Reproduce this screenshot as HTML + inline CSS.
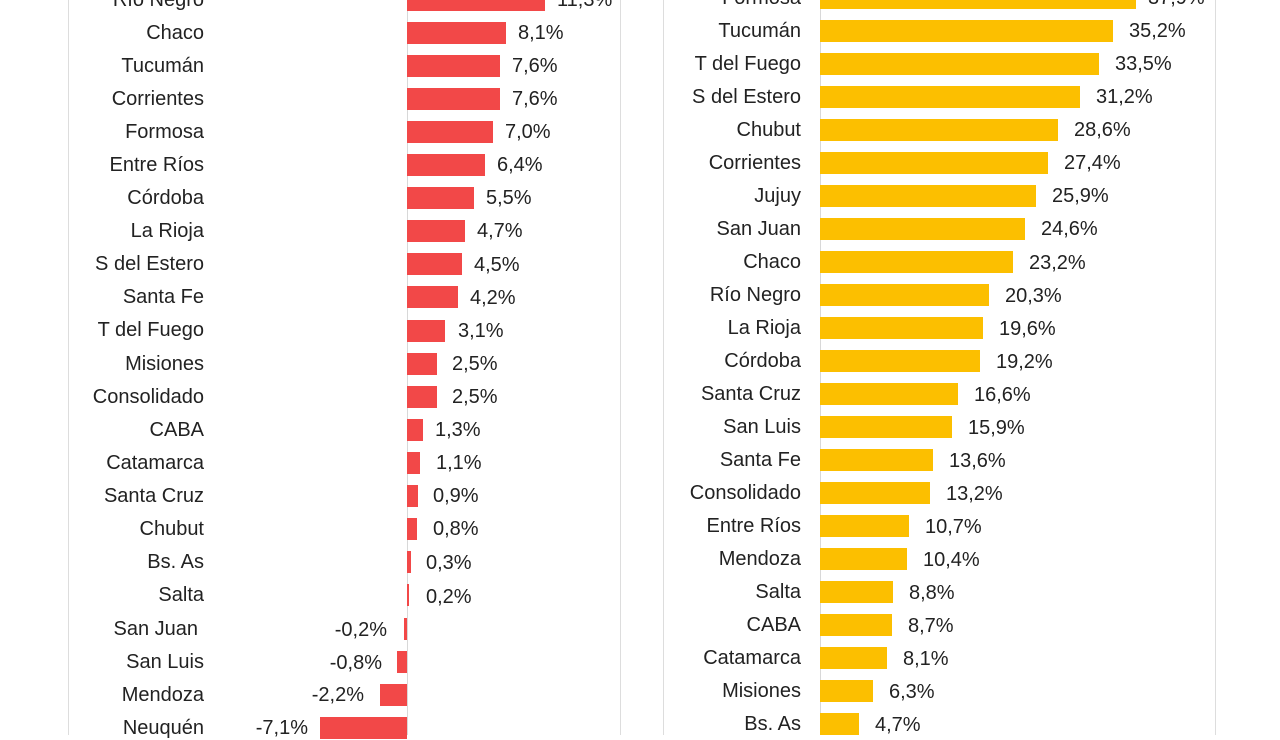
<!DOCTYPE html>
<html><head><meta charset="utf-8"><style>
body{margin:0;width:1280px;height:720px;overflow:hidden;background:#fff;position:relative;font-family:"Liberation Sans",Arial,sans-serif;font-size:20px;color:#222}
.p{position:absolute;top:-5px;height:740px;border-left:1px solid #ddd;border-right:1px solid #ddd}
.ax{position:absolute;top:-5px;height:740px;width:1px;background:#d8d8d8}
.b{position:absolute;height:22px}
.r{background:#f24848}.y{background:#fcbf00}
.l{position:absolute;height:24px;line-height:24px;white-space:nowrap}
.lr{text-align:right}
</style></head><body>
<div class="p" style="left:68px;width:551px"></div>
<div class="p" style="left:663px;width:551px"></div>
<div class="ax" style="left:407px"></div>
<div class="ax" style="left:820px"></div>

<!-- left panel: center y = 33.05*i, bar scale 12.2px/% from x=407 -->
<div class="l lr" style="right:1076px;top:-12px">Río Negro</div><div class="b r" style="left:407px;top:-11px;width:138px"></div><div class="l" style="left:557px;top:-12px">11,3%</div>
<div class="l lr" style="right:1076px;top:21px">Chaco</div><div class="b r" style="left:407px;top:22px;width:99px"></div><div class="l" style="left:518px;top:21px">8,1%</div>
<div class="l lr" style="right:1076px;top:54px">Tucumán</div><div class="b r" style="left:407px;top:55px;width:93px"></div><div class="l" style="left:512px;top:54px">7,6%</div>
<div class="l lr" style="right:1076px;top:87px">Corrientes</div><div class="b r" style="left:407px;top:88px;width:93px"></div><div class="l" style="left:512px;top:87px">7,6%</div>
<div class="l lr" style="right:1076px;top:120px">Formosa</div><div class="b r" style="left:407px;top:121px;width:86px"></div><div class="l" style="left:505px;top:120px">7,0%</div>
<div class="l lr" style="right:1076px;top:153px">Entre Ríos</div><div class="b r" style="left:407px;top:154px;width:78px"></div><div class="l" style="left:497px;top:153px">6,4%</div>
<div class="l lr" style="right:1076px;top:186px">Córdoba</div><div class="b r" style="left:407px;top:187px;width:67px"></div><div class="l" style="left:486px;top:186px">5,5%</div>
<div class="l lr" style="right:1076px;top:219px">La Rioja</div><div class="b r" style="left:407px;top:220px;width:58px"></div><div class="l" style="left:477px;top:219px">4,7%</div>
<div class="l lr" style="right:1076px;top:252px">S del Estero</div><div class="b r" style="left:407px;top:253px;width:55px"></div><div class="l" style="left:474px;top:253px">4,5%</div>
<div class="l lr" style="right:1076px;top:285px">Santa Fe</div><div class="b r" style="left:407px;top:286px;width:51px"></div><div class="l" style="left:470px;top:286px">4,2%</div>
<div class="l lr" style="right:1076px;top:318px">T del Fuego</div><div class="b r" style="left:407px;top:320px;width:38px"></div><div class="l" style="left:458px;top:319px">3,1%</div>
<div class="l lr" style="right:1076px;top:352px">Misiones</div><div class="b r" style="left:407px;top:353px;width:30px"></div><div class="l" style="left:452px;top:352px">2,5%</div>
<div class="l lr" style="right:1076px;top:385px">Consolidado</div><div class="b r" style="left:407px;top:386px;width:30px"></div><div class="l" style="left:452px;top:385px">2,5%</div>
<div class="l lr" style="right:1076px;top:418px">CABA</div><div class="b r" style="left:407px;top:419px;width:16px"></div><div class="l" style="left:435px;top:418px">1,3%</div>
<div class="l lr" style="right:1076px;top:451px">Catamarca</div><div class="b r" style="left:407px;top:452px;width:13px"></div><div class="l" style="left:436px;top:451px">1,1%</div>
<div class="l lr" style="right:1076px;top:484px">Santa Cruz</div><div class="b r" style="left:407px;top:485px;width:11px"></div><div class="l" style="left:433px;top:484px">0,9%</div>
<div class="l lr" style="right:1076px;top:517px">Chubut</div><div class="b r" style="left:407px;top:518px;width:10px"></div><div class="l" style="left:433px;top:517px">0,8%</div>
<div class="l lr" style="right:1076px;top:550px">Bs. As</div><div class="b r" style="left:407px;top:551px;width:4px"></div><div class="l" style="left:426px;top:551px">0,3%</div>
<div class="l lr" style="right:1076px;top:583px">Salta</div><div class="b r" style="left:407px;top:584px;width:2px"></div><div class="l" style="left:426px;top:585px">0,2%</div>
<div class="l lr" style="right:1082px;top:617px">San Juan</div><div class="b r" style="left:404px;top:618px;width:3px"></div><div class="l lr" style="right:893px;top:618px">-0,2%</div>
<div class="l lr" style="right:1076px;top:650px">San Luis</div><div class="b r" style="left:397px;top:651px;width:10px"></div><div class="l lr" style="right:898px;top:651px">-0,8%</div>
<div class="l lr" style="right:1076px;top:683px">Mendoza</div><div class="b r" style="left:380px;top:684px;width:27px"></div><div class="l lr" style="right:916px;top:683px">-2,2%</div>
<div class="l lr" style="right:1076px;top:716px">Neuquén</div><div class="b r" style="left:320px;top:717px;width:87px"></div><div class="l lr" style="right:972px;top:716px">-7,1%</div>

<!-- right panel: center y = -2 + 33.0*i, scale 8.33px/% from x=820 -->
<div class="l lr" style="right:479px;top:-14px">Formosa</div><div class="b y" style="left:820px;top:-13px;width:316px"></div><div class="l" style="left:1148px;top:-14px">37,9%</div>
<div class="l lr" style="right:479px;top:19px">Tucumán</div><div class="b y" style="left:820px;top:20px;width:293px"></div><div class="l" style="left:1129px;top:19px">35,2%</div>
<div class="l lr" style="right:479px;top:52px">T del Fuego</div><div class="b y" style="left:820px;top:53px;width:279px"></div><div class="l" style="left:1115px;top:52px">33,5%</div>
<div class="l lr" style="right:479px;top:85px">S del Estero</div><div class="b y" style="left:820px;top:86px;width:260px"></div><div class="l" style="left:1096px;top:85px">31,2%</div>
<div class="l lr" style="right:479px;top:118px">Chubut</div><div class="b y" style="left:820px;top:119px;width:238px"></div><div class="l" style="left:1074px;top:118px">28,6%</div>
<div class="l lr" style="right:479px;top:151px">Corrientes</div><div class="b y" style="left:820px;top:152px;width:228px"></div><div class="l" style="left:1064px;top:151px">27,4%</div>
<div class="l lr" style="right:479px;top:184px">Jujuy</div><div class="b y" style="left:820px;top:185px;width:216px"></div><div class="l" style="left:1052px;top:184px">25,9%</div>
<div class="l lr" style="right:479px;top:217px">San Juan</div><div class="b y" style="left:820px;top:218px;width:205px"></div><div class="l" style="left:1041px;top:217px">24,6%</div>
<div class="l lr" style="right:479px;top:250px">Chaco</div><div class="b y" style="left:820px;top:251px;width:193px"></div><div class="l" style="left:1029px;top:251px">23,2%</div>
<div class="l lr" style="right:479px;top:283px">Río Negro</div><div class="b y" style="left:820px;top:284px;width:169px"></div><div class="l" style="left:1005px;top:284px">20,3%</div>
<div class="l lr" style="right:479px;top:316px">La Rioja</div><div class="b y" style="left:820px;top:317px;width:163px"></div><div class="l" style="left:999px;top:317px">19,6%</div>
<div class="l lr" style="right:479px;top:349px">Córdoba</div><div class="b y" style="left:820px;top:350px;width:160px"></div><div class="l" style="left:996px;top:350px">19,2%</div>
<div class="l lr" style="right:479px;top:382px">Santa Cruz</div><div class="b y" style="left:820px;top:383px;width:138px"></div><div class="l" style="left:974px;top:383px">16,6%</div>
<div class="l lr" style="right:479px;top:415px">San Luis</div><div class="b y" style="left:820px;top:416px;width:132px"></div><div class="l" style="left:968px;top:416px">15,9%</div>
<div class="l lr" style="right:479px;top:448px">Santa Fe</div><div class="b y" style="left:820px;top:449px;width:113px"></div><div class="l" style="left:949px;top:449px">13,6%</div>
<div class="l lr" style="right:479px;top:481px">Consolidado</div><div class="b y" style="left:820px;top:482px;width:110px"></div><div class="l" style="left:946px;top:482px">13,2%</div>
<div class="l lr" style="right:479px;top:514px">Entre Ríos</div><div class="b y" style="left:820px;top:515px;width:89px"></div><div class="l" style="left:925px;top:515px">10,7%</div>
<div class="l lr" style="right:479px;top:547px">Mendoza</div><div class="b y" style="left:820px;top:548px;width:87px"></div><div class="l" style="left:923px;top:548px">10,4%</div>
<div class="l lr" style="right:479px;top:580px">Salta</div><div class="b y" style="left:820px;top:581px;width:73px"></div><div class="l" style="left:909px;top:581px">8,8%</div>
<div class="l lr" style="right:479px;top:613px">CABA</div><div class="b y" style="left:820px;top:614px;width:72px"></div><div class="l" style="left:908px;top:614px">8,7%</div>
<div class="l lr" style="right:479px;top:646px">Catamarca</div><div class="b y" style="left:820px;top:647px;width:67px"></div><div class="l" style="left:903px;top:647px">8,1%</div>
<div class="l lr" style="right:479px;top:679px">Misiones</div><div class="b y" style="left:820px;top:680px;width:53px"></div><div class="l" style="left:889px;top:680px">6,3%</div>
<div class="l lr" style="right:479px;top:712px">Bs. As</div><div class="b y" style="left:820px;top:713px;width:39px"></div><div class="l" style="left:875px;top:713px">4,7%</div>
</body></html>
